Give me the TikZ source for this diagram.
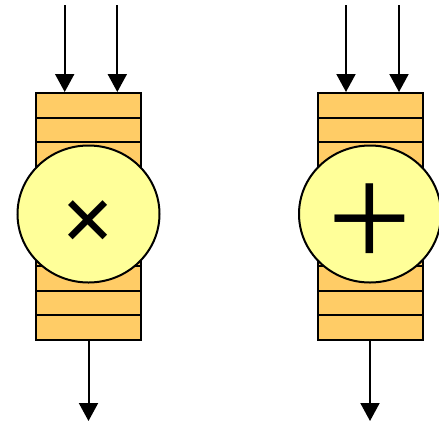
\documentclass[tikz,border=0pt]{standalone}
\usepackage{fontspec}
\setmainfont{Liberation Serif}
\usetikzlibrary{arrows.meta,shapes.geometric}
\definecolor{regfill}{RGB}{255,204,102}
\definecolor{opfill}{RGB}{255,255,153}
\tikzset{
  cell/.style={
    rectangle,
    fill=regfill,
    draw=black,
    line width=1pt,
    minimum width=52.5pt,
    minimum height=12.35pt,
    inner sep=0pt,
  },
  unit/.style={
    ellipse,
    fill=opfill,
    draw=black,
    line width=1pt,
    minimum width=71pt,
    minimum height=68.5pt,
    inner sep=0pt,
  },
  sign/.style={
    inner sep=0pt,
  },
  flow/.style={
    arrows={-Triangle[length=9pt, width=9.5pt]},
    line width=1pt,
  }
}

\begin{document}
\begin{tikzpicture}[x=0.5pt, y=-0.5pt]
    \useasboundingbox (0, 0) rectangle (439, 424);

    % register stacks
    \foreach \i in {0,...,9} {
        \node[cell] (mulreg\i) at (88.5, 105.35 + 24.7*\i) {};
        \node[cell] (addreg\i) at (370, 105.35 + 24.7*\i) {};
    }

    % operator units
    \node[unit] (mul) at (88.5, 214) {};
    \node[unit] (add) at (370, 214) {};
    \node[sign, font=\fontsize{47}{47}\selectfont\bfseries] (mulsign) at (88.5, 226) {×};
    \node[sign, font=\fontsize{75}{75}\selectfont] (addsign) at (370, 226) {+};

    % inputs and outputs
    \coordinate (mulinA) at (64.7, 5);
    \coordinate (mulinB) at (117.3, 5);
    \coordinate (mulout) at (88.5, 421);
    \coordinate (addinA) at (346, 5);
    \coordinate (addinB) at (399, 5);
    \coordinate (addout) at (370, 421);

    \draw[flow] (mulinA) -- (mulinA |- mulreg0.north);
    \draw[flow] (mulinB) -- (mulinB |- mulreg0.north);
    \draw[flow] (mulreg9.south) -- (mulout);

    \draw[flow] (addinA) -- (addinA |- addreg0.north);
    \draw[flow] (addinB) -- (addinB |- addreg0.north);
    \draw[flow] (addreg9.south) -- (addout);

\end{tikzpicture}
\end{document}
